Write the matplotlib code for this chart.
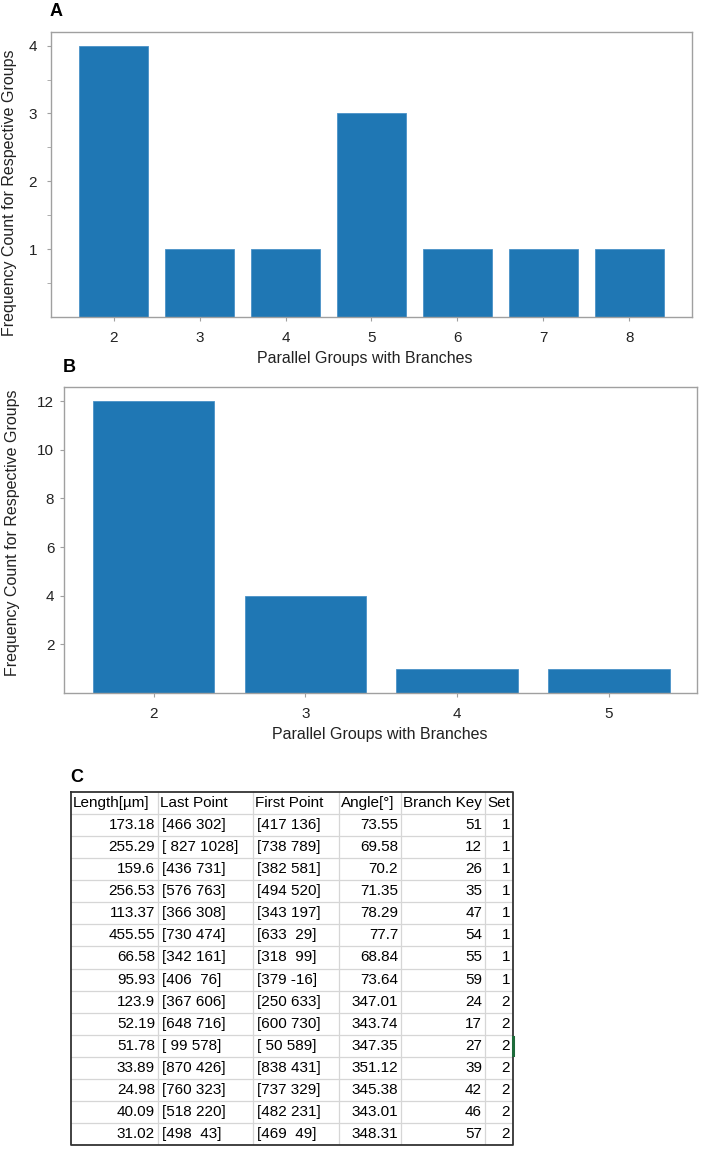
import numpy as np
import matplotlib.pyplot as plt

plt.rcParams['font.family'] = ['Liberation Sans', 'DejaVu Sans']

# panel A
groups_a = [2, 3, 4, 5, 6, 7, 8]
counts_a = [4, 1, 1, 3, 1, 1, 1]
# panel B
groups_b = [2, 3, 4, 5]
counts_b = [12, 4, 1, 1]

xlab = 'Parallel Groups with Branches'
ylab = 'Frequency Count for Respective Groups'

# panel C table
headers = ['Length[µm]', 'Last Point', 'First Point', 'Angle[°]', 'Branch Key', 'Set']
lengths = [173.18, 255.29, 159.6, 256.53, 113.37, 455.55, 66.58, 95.93,
           123.9, 52.19, 51.78, 33.89, 24.98, 40.09, 31.02]
last_pts = ['[466 302]', '[ 827 1028]', '[436 731]', '[576 763]', '[366 308]',
            '[730 474]', '[342 161]', '[406  76]', '[367 606]', '[648 716]',
            '[ 99 578]', '[870 426]', '[760 323]', '[518 220]', '[498  43]']
first_pts = ['[417 136]', '[738 789]', '[382 581]', '[494 520]', '[343 197]',
             '[633  29]', '[318  99]', '[379 -16]', '[250 633]', '[600 730]',
             '[ 50 589]', '[838 431]', '[737 329]', '[482 231]', '[469  49]']
angles = [73.55, 69.58, 70.2, 71.35, 78.29, 77.7, 68.84, 73.64,
          347.01, 343.74, 347.35, 351.12, 345.38, 343.01, 348.31]
branch_keys = [51, 12, 26, 35, 47, 54, 55, 59, 24, 17, 27, 39, 42, 46, 57]
sets = [1, 1, 1, 1, 1, 1, 1, 1, 2, 2, 2, 2, 2, 2, 2]

W, H = 708, 1149
fig = plt.figure(figsize=(W/100, H/100), dpi=100)

def box(l, t, r, b):
    return [l/W, 1 - b/H, (r - l)/W, (b - t)/H]

bar_color = '#1f77b4'
spine_c = '#a0a0a0'

def style(ax, ypad):
    for s in ax.spines.values():
        s.set_color(spine_c)
        s.set_linewidth(1.0)
    ax.tick_params(axis='both', which='both', colors=spine_c, labelcolor='#222222',
                   labelsize=11, direction='out')
    ax.tick_params(axis='x', length=3, pad=7)
    ax.tick_params(axis='y', which='major', length=3, pad=ypad)
    ax.tick_params(axis='y', which='minor', length=3)

# ---- A
axA = fig.add_axes(box(51, 32, 692, 317))
axA.bar(groups_a, counts_a, width=0.8, color=bar_color, edgecolor='#4a92c8', linewidth=0.6)
axA.set_xlim(1.27, 8.73)
axA.set_ylim(0, 4.2)
axA.set_xticks(groups_a)
axA.set_yticks([1, 2, 3, 4])
axA.set_yticks(np.arange(0.5, 4.01, 0.5), minor=True)
style(axA, 7)
fig.text(56/W, 1 - 12/H, 'A', fontsize=13, fontweight='bold', ha='center', va='center')
fig.text(365/W, 1 - 358/H, xlab, fontsize=11.5, ha='center', va='center', color='#222222')
fig.text(10/W, 1 - 193/H, ylab, fontsize=11.5, ha='center', va='center', rotation=90, color='#222222')

# ---- B
axB = fig.add_axes(box(64, 387, 697, 693))
axB.bar(groups_b, counts_b, width=0.8, color=bar_color, edgecolor='#4a92c8', linewidth=0.6)
axB.set_xlim(1.41, 5.58)
axB.set_ylim(0, 12.58)
axB.set_xticks(groups_b)
axB.set_yticks([2, 4, 6, 8, 10, 12])
style(axB, 4)
fig.text(69/W, 1 - 367/H, 'B', fontsize=13, fontweight='bold', ha='center', va='center')
fig.text(380/W, 1 - 735/H, xlab, fontsize=11.5, ha='center', va='center', color='#222222')
fig.text(13/W, 1 - 533/H, ylab, fontsize=11.5, ha='center', va='center', rotation=90, color='#222222')

# ---- C table
fig.text(77/W, 1 - 777/H, 'C', fontsize=13, fontweight='bold', ha='center', va='center')
t_left, t_top, t_right, t_bot = 71, 792, 513, 1145
axT = fig.add_axes(box(t_left, t_top, t_right, t_bot))
nrows = len(lengths) + 1
axT.set_xlim(0, t_right - t_left)
axT.set_ylim(nrows, 0)
axT.axis('off')

col_edges = [0, 87, 182, 268, 330, 414, 442]
aligns = ['right', 'left', 'left', 'right', 'right', 'right']
columns = [lengths, last_pts, first_pts, angles, branch_keys, sets]

grid_c = '#d6d6d6'
for r in range(1, nrows):
    axT.plot([0, col_edges[-1]], [r, r], color=grid_c, lw=0.9)
for e in col_edges[1:-1]:
    axT.plot([e, e], [0, nrows], color=grid_c, lw=0.9)

for j, h in enumerate(headers):
    axT.text(col_edges[j] + 2, 0.5, h, ha='left', va='center', fontsize=11, color='black')

for j, col in enumerate(columns):
    for i, v in enumerate(col):
        if aligns[j] == 'right':
            axT.text(col_edges[j + 1] - 3, i + 1.5, str(v), ha='right', va='center',
                     fontsize=11, color='black')
        else:
            axT.text(col_edges[j] + 4, i + 1.5, str(v), ha='left', va='center',
                     fontsize=11, color='black')

# outer border
axT.plot([0, col_edges[-1], col_edges[-1], 0, 0], [0, 0, nrows, nrows, 0],
         color='#333333', lw=1.3, clip_on=False)
# selection marker in the sheet
axT.plot([col_edges[-1], col_edges[-1]], [11.1, 11.9], color='#1d6b3a', lw=2.2, clip_on=False)

fig.savefig('out.png', dpi=100)
